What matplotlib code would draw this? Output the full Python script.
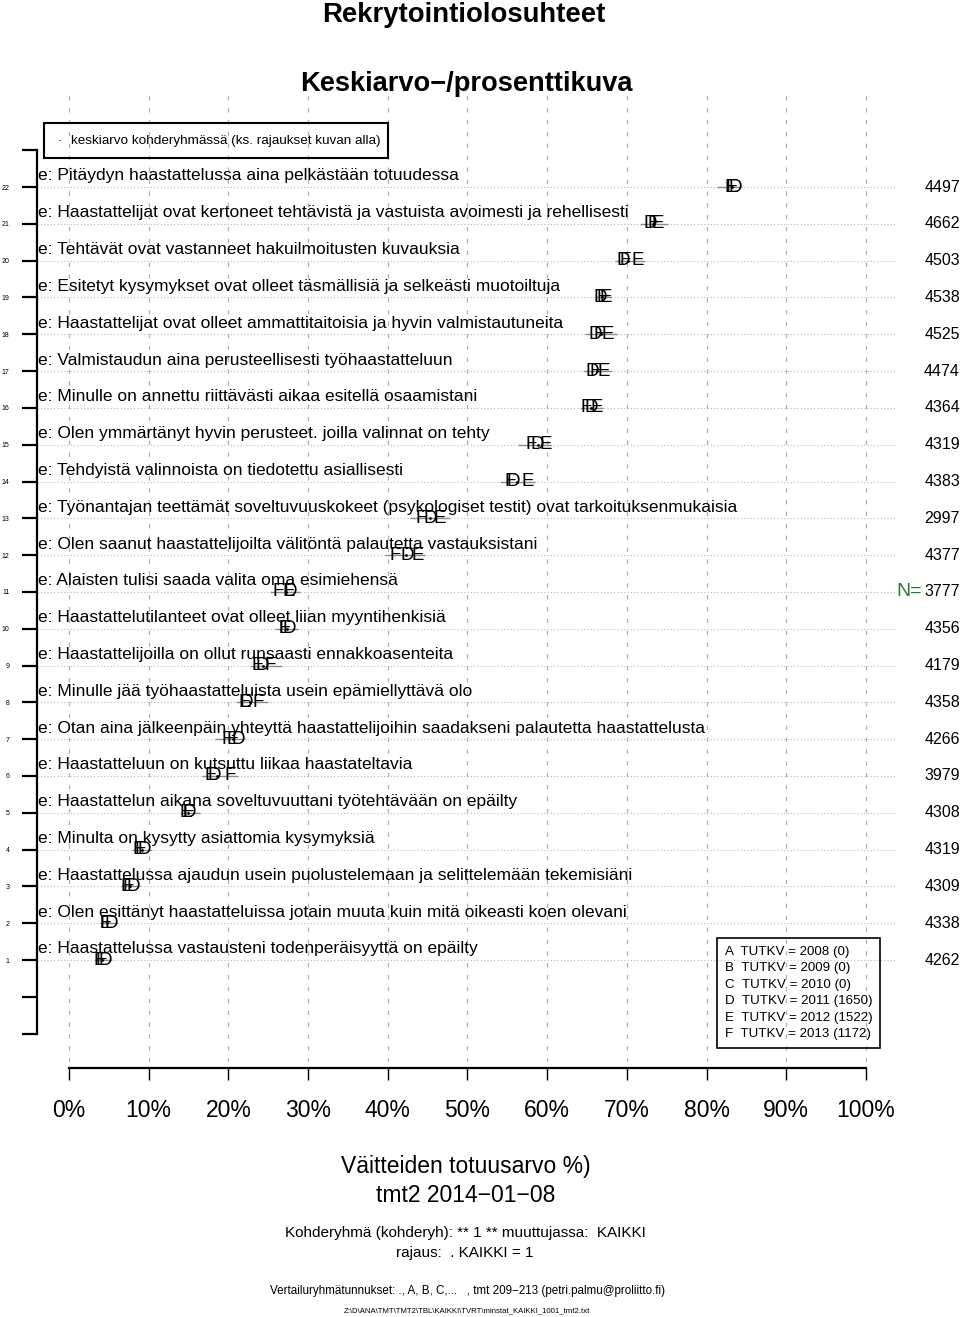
import matplotlib
matplotlib.use('Agg')
import matplotlib.pyplot as plt
from matplotlib.patches import Rectangle
from matplotlib.transforms import blended_transform_factory

plt.rcParams['font.family'] = ['Liberation Sans', 'DejaVu Sans']

# väittämät ylhäältä alas (rivi 22 -> 1)
vaitteet = [
    "Pitäydyn haastattelussa aina pelkästään totuudessa",
    "Haastattelijat ovat kertoneet tehtävistä ja vastuista avoimesti ja rehellisesti",
    "Tehtävät ovat vastanneet hakuilmoitusten kuvauksia",
    "Esitetyt kysymykset ovat olleet täsmällisiä ja selkeästi muotoiltuja",
    "Haastattelijat ovat olleet ammattitaitoisia ja hyvin valmistautuneita",
    "Valmistaudun aina perusteellisesti työhaastatteluun",
    "Minulle on annettu riittävästi aikaa esitellä osaamistani",
    "Olen ymmärtänyt hyvin perusteet. joilla valinnat on tehty",
    "Tehdyistä valinnoista on tiedotettu asiallisesti",
    "Työnantajan teettämät soveltuvuuskokeet (psykologiset testit) ovat tarkoituksenmukaisia",
    "Olen saanut haastattelijoilta välitöntä palautetta vastauksistani",
    "Alaisten tulisi saada valita oma esimiehensä",
    "Haastattelutilanteet ovat olleet liian myyntihenkisiä",
    "Haastattelijoilla on ollut runsaasti ennakkoasenteita",
    "Minulle jää työhaastatteluista usein epämiellyttävä olo",
    "Otan aina jälkeenpäin yhteyttä haastattelijoihin saadakseni palautetta haastattelusta",
    "Haastatteluun on kutsuttu liikaa haastateltavia",
    "Haastattelun aikana soveltuvuuttani työtehtävään on epäilty",
    "Minulta on kysytty asiattomia kysymyksiä",
    "Haastattelussa ajaudun usein puolustelemaan ja selittelemään tekemisiäni",
    "Olen esittänyt haastatteluissa jotain muuta kuin mitä oikeasti koen olevani",
    "Haastattelussa vastausteni todenperäisyyttä on epäilty",
]
n_vast = [4497, 4662, 4503, 4538, 4525, 4474, 4364, 4319, 4383, 2997, 4377,
          3777, 4356, 4179, 4358, 4266, 3979, 4308, 4319, 4309, 4338, 4262]

# ryhmien keskiarvot (%)
arvo_D = [83.6, 72.9, 69.6, 66.6, 66.0, 65.7, 65.5, 58.7, 55.7, 45.3, 42.5,
          27.7, 27.6, 24.3, 22.3, 21.2, 18.2, 15.1, 9.5, 8.0, 5.3, 4.5]
arvo_E = [83.1, 73.9, 71.3, 67.4, 67.6, 67.1, 66.2, 59.8, 57.5, 46.5, 43.7,
          27.6, 27.1, 23.7, 22.1, 20.5, 17.8, 14.7, 8.8, 7.3, 4.6, 3.9]
arvo_F = [83.0, 73.3, 69.8, 66.9, 66.5, 66.0, 64.9, 58.0, 55.3, 44.2, 40.9,
          26.2, 27.0, 25.3, 23.8, 19.9, 20.2, 14.9, 8.9, 7.4, 4.5, 4.0]
keskiarvo = [83.2, 73.3, 70.2, 66.9, 66.7, 66.2, 65.5, 58.8, 56.2, 45.3, 42.3,
             27.2, 27.3, 24.4, 22.7, 20.6, 18.6, 14.9, 9.1, 7.6, 4.8, 4.1]
vali_ala = [81.3, 71.6, 68.5, 66.1, 64.7, 64.5, 64.1, 56.3, 54.1, 42.8, 39.6,
            25.2, 25.8, 22.7, 21.0, 18.3, 16.7, 13.9, 7.9, 6.5, 3.9, 3.3]
vali_yla = [84.4, 75.2, 72.3, 68.1, 68.8, 68.1, 67.0, 60.5, 58.5, 47.8, 44.7,
            29.0, 28.7, 26.7, 25.0, 22.1, 21.2, 16.4, 10.4, 8.9, 6.1, 5.4]

ryhmat = ['A', 'B', 'C', 'D', 'E', 'F']
vuodet = [2008, 2009, 2010, 2011, 2012, 2013]
n_ryhma = [0, 0, 0, 1650, 1522, 1172]

x_ticks = list(range(0, 101, 10))

W, H = 960, 1317
fig = plt.figure(figsize=(W / 100, H / 100), dpi=100)

def fy(px):
    return 1 - px / H

ax = fig.add_axes([37 / W, fy(1062), 860 / W, (1062 - 88) / H])
ax.set_xlim(-4.015, 103.89)
ax.set_ylim(-1.77, 24.69)

rivit = list(range(len(vaitteet), 0, -1))

# ruudukko
for xv in x_ticks:
    ax.axvline(xv, color='#b0b0b0', linewidth=0.9, linestyle=(0, (3.5, 6)), zorder=1)
for r in rivit:
    ax.axhline(r, color='#bdbdbd', linewidth=0.8, linestyle=(0, (1, 2)), zorder=1)

# luottamusvälit + kirjaimet
ax.hlines(rivit, vali_ala, vali_yla, color='#8c8c8c', linewidth=1, zorder=2)
for r, d, e, f, m in zip(rivit, arvo_D, arvo_E, arvo_F, keskiarvo):
    ax.text(d, r, 'D', fontsize=13.5, ha='center', va='center', zorder=3)
    ax.text(e, r, 'E', fontsize=13.5, ha='center', va='center', zorder=3)
    ax.text(f, r, 'F', fontsize=13.5, ha='center', va='center', zorder=3)
    ax.plot(m, r, marker='.', markersize=2, color='black', zorder=4)

# väittämien tekstit
for r, t in zip(rivit, vaitteet):
    ax.text(-3.9, r + 0.3, 'e: ' + t, fontsize=12.5, ha='left', va='center', zorder=3)

# N-luvut oikealla
tr = blended_transform_factory(fig.transFigure, ax.transData)
for r, n in zip(rivit, n_vast):
    ax.text(1.0, r, str(n), fontsize=11.5, ha='right', va='center', transform=tr, clip_on=False)
ax.text(922 / W, 11, 'N=', fontsize=14, color='#2a7a2a', ha='right', va='center',
        transform=tr, clip_on=False)

# akselit
ax.spines['top'].set_visible(False)
ax.spines['right'].set_visible(False)
ax.spines['left'].set_bounds(-1, 23)
ax.spines['left'].set_linewidth(1.6)
ax.spines['bottom'].set_position(('outward', 4.3))
ax.spines['bottom'].set_bounds(0, 100)
ax.spines['bottom'].set_linewidth(1.6)

ax.set_yticks(list(range(-1, 24)))
ax.set_yticklabels([str(v) if 1 <= v <= 22 else '' for v in range(-1, 24)])
ax.tick_params(axis='y', length=10.8, width=1.6, labelsize=5, pad=9)
ax.set_xticks(x_ticks)
ax.set_xticklabels([f'{v}%' for v in x_ticks])
ax.tick_params(axis='x', length=8.6, width=1, labelsize=16.5, pad=14)

# otsikot
fig.text(464 / W, fy(22), 'Rekrytointiolosuhteet', fontsize=19.8, fontweight='bold',
         ha='center', va='baseline')
fig.text(466 / W, fy(91), 'Keskiarvo\u2212/prosenttikuva', fontsize=19.6, fontweight='bold',
         ha='center', va='baseline')

# ylälegenda
fig.patches.append(Rectangle((44 / W, fy(158)), 344 / W, 35 / H, fill=False,
                             edgecolor='black', linewidth=1.5, transform=fig.transFigure))
fig.text(60 / W, fy(141), '\u00b7', fontsize=9.7, ha='center', va='center')
fig.text(71 / W, fy(141), 'keskiarvo kohderyhmässä (ks. rajaukset kuvan alla)',
         fontsize=9.7, ha='left', va='center')

# alalegenda
fig.patches.append(Rectangle((717 / W, fy(1048)), 163 / W, 110 / H, fill=False,
                             edgecolor='black', linewidth=1.2, transform=fig.transFigure))
for i, (g, v, n) in enumerate(zip(ryhmat, vuodet, n_ryhma)):
    fig.text(725 / W, fy(952 + i * 16.4), f'{g}  TUTKV = {v} ({n})', fontsize=9.6,
             ha='left', va='center')

# alatekstit
fig.text(466 / W, fy(1166), 'Väitteiden totuusarvo %)', fontsize=16.5, ha='center', va='center')
fig.text(466 / W, fy(1195), 'tmt2 2014\u221201\u221208', fontsize=16.5, ha='center', va='center')
fig.text(465 / W, fy(1233), 'Kohderyhmä (kohderyh): ** 1 ** muuttujassa:  KAIKKI',
         fontsize=11, ha='center', va='center')
fig.text(465 / W, fy(1253), 'rajaus:  . KAIKKI = 1', fontsize=11, ha='center', va='center')
fig.text(467 / W, fy(1291),
         'Vertailuryhmätunnukset: ., A, B, C,...   , tmt 209\u2212213 (petri.palmu@proliitto.fi)',
         fontsize=8.4, ha='center', va='center')
fig.text(467 / W, fy(1311), r'Z:\D\ANA\TMT\TMT2\TBL\KAIKKI\TVRT\minstat_KAIKKI_1001_tmt2.txt',
         fontsize=5.6, ha='center', va='center')

fig.savefig('out.png', dpi=100)
